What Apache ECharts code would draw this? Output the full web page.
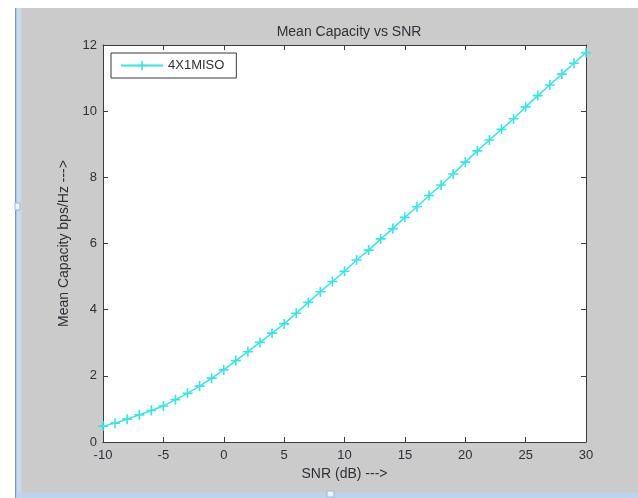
<!DOCTYPE html>
<html>
<head>
<meta charset="utf-8">
<script src="https://cdn.jsdelivr.net/npm/echarts@6/dist/echarts.min.js"></script>
<style>html,body{margin:0;padding:0;background:#fff}#c{width:638px;height:498px}</style>
</head>
<body>
<div id="c"></div>
<script>
const snr = [-10,-9,-8,-7,-6,-5,-4,-3,-2,-1,0,1,2,3,4,5,6,7,8,9,10,11,12,13,14,15,16,17,18,19,20,21,22,23,24,25,26,27,28,29,30];
const capacity = [0.48,0.57,0.69,0.82,0.95,1.09,1.28,1.47,1.69,1.93,2.18,2.46,2.73,3.01,3.29,3.57,3.89,4.22,4.54,4.85,5.16,5.5,5.8,6.14,6.45,6.79,7.11,7.45,7.77,8.1,8.46,8.8,9.13,9.45,9.77,10.13,10.47,10.79,11.12,11.45,11.77];
const seriesName = '4X1MISO';
const titleText = 'Mean Capacity vs SNR';
const xName = 'SNR (dB) --->';
const yName = 'Mean Capacity bps/Hz --->';

const font = 'Liberation Sans, Arial, sans-serif';
const txt = '#303038';
const axisCol = '#3c3c3c';
const plus = 'path://M0,4.2h10v1.6h-10z M4.2,0h1.6v10h-1.6z';

const chart = echarts.init(document.getElementById('c'), null, {renderer: 'canvas'});
const tickInside = {show: true, inside: true, length: 5, lineStyle: {color: axisCol}};
chart.setOption({
  backgroundColor: '#cbcbcb',
  animation: false,
  graphic: [
    {type: 'rect', shape: {x: 0, y: 0, width: 638, height: 8}, style: {fill: '#ffffff'}},
    {type: 'rect', shape: {x: 0, y: 0, width: 15, height: 498}, style: {fill: '#ffffff'}},
    {type: 'rect', shape: {x: 15, y: 8, width: 1.5, height: 490}, style: {fill: '#7d97b8'}},
    {type: 'rect', shape: {x: 16.5, y: 8, width: 5, height: 490}, style: {fill: '#c6dbef'}},
    {type: 'rect', shape: {x: 16.5, y: 492.5, width: 622, height: 6}, style: {fill: '#bcd4ec'}},
    {type: 'rect', shape: {x: 15, y: 203, width: 5, height: 7}, style: {fill: '#eef4fb', stroke: '#9fb6d0', lineWidth: 1}},
    {type: 'rect', shape: {x: 327, y: 491, width: 7, height: 6}, style: {fill: '#eef4fb', stroke: '#9fb6d0', lineWidth: 1}}
  ],
  title: {
    text: titleText, left: 344, top: 20, textAlign: 'center',
    textStyle: {fontFamily: font, fontSize: 14, fontWeight: 'normal', color: txt}
  },
  legend: {
    left: 111, top: 53,
    data: [seriesName],
    orient: 'vertical',
    backgroundColor: '#ffffff',
    borderColor: '#3a3a3a', borderWidth: 1, borderRadius: 0,
    padding: [6, 12, 6, 9],
    itemWidth: 42, itemHeight: 12, itemGap: 0,
    textStyle: {fontFamily: font, fontSize: 13, color: txt, padding: [0, 0, 0, 0]}
  },
  grid: {left: 103, right: 52, top: 45, bottom: 56, show: true, backgroundColor: '#ffffff', borderWidth: 0},
  xAxis: [{
    type: 'value', min: -10, max: 30, interval: 5,
    name: xName, nameLocation: 'middle', nameGap: 22,
    nameTextStyle: {fontFamily: font, fontSize: 14, color: txt},
    axisLine: {show: true, onZero: false, lineStyle: {color: axisCol, width: 1}},
    axisTick: tickInside,
    axisLabel: {fontFamily: font, fontSize: 13, color: txt, margin: 7},
    splitLine: {show: false}
  }, {
    type: 'value', position: 'top', min: -10, max: 30, interval: 5,
    axisLine: {show: true, onZero: false, lineStyle: {color: axisCol, width: 1}},
    axisTick: tickInside, axisLabel: {show: false}, splitLine: {show: false}
  }],
  yAxis: [{
    type: 'value', min: 0, max: 12, interval: 2,
    name: yName, nameLocation: 'middle', nameGap: 31,
    nameTextStyle: {fontFamily: font, fontSize: 14, color: txt},
    axisLine: {show: true, onZero: false, lineStyle: {color: axisCol, width: 1}},
    axisTick: tickInside,
    axisLabel: {fontFamily: font, fontSize: 13, color: txt, margin: 6},
    splitLine: {show: false}
  }, {
    type: 'value', position: 'right', min: 0, max: 12, interval: 2,
    axisLine: {show: true, onZero: false, lineStyle: {color: axisCol, width: 1}},
    axisTick: tickInside, axisLabel: {show: false}, splitLine: {show: false}
  }],
  series: [{
    name: seriesName, type: 'line',
    data: snr.map((x, i) => [x, capacity[i]]),
    symbol: plus, symbolSize: 10, showSymbol: true,
    lineStyle: {color: '#35e6e6', width: 1.5},
    itemStyle: {color: '#35e6e6'}
  }]
});
</script>
</body>
</html>
